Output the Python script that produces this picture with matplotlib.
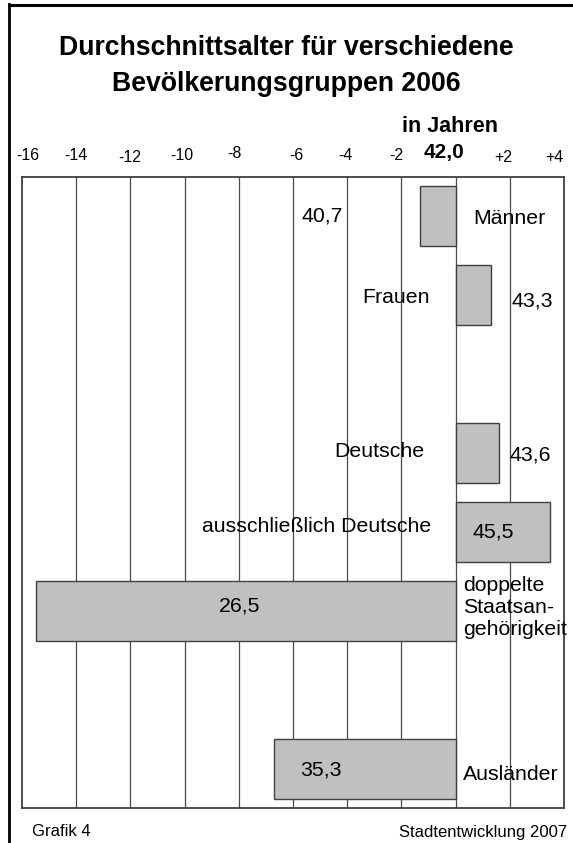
import matplotlib
matplotlib.use("Agg")
import matplotlib.pyplot as plt
import matplotlib.transforms as mtransforms
from matplotlib.lines import Line2D

# 1. DATA
groups = ["Männer", "Frauen", "Deutsche", "ausschließlich Deutsche",
          "doppelte\nStaatsan-\ngehörigkeit", "Ausländer"]
ages = [40.7, 43.3, 43.6, 45.5, 26.5, 35.3]
mean_age = 42.0
tick_values = [-16, -14, -12, -10, -8, -6, -4, -2, 0, 2, 4]
tick_labels = ["-16", "-14", "-12", "-10", "-8", "-6", "-4", "-2", "42,0", "+2", "+4"]

# 2. LAYOUT (slot of each bar, label placement)
slots = [0, 1, 3, 4, 5, 7]
tick_nudge = [0.22, 0.0, -0.03, -0.1, -0.17, 0.13, -0.07, -0.2, -0.43, -0.25, -0.34]
tick_dy = [0, 0, -2, 0, 2, 0, 0, 0, 3, -2, -2]  # pixels
# (x, dy, ha) for the value label and the group label
value_pos = [(-4.92, 0.0, "center"), (2.05, 0.08, "left"), (2.0, 0.03, "left"),
             (0.64, 0.0, "left"), (-7.96, -0.06, "center"), (-5.74, 0.02, "left")]
group_pos = [(0.64, 0.03, "left"), (-0.94, 0.03, "right"), (-1.17, -0.01, "right"),
             (-0.9, -0.06, "right"), (0.27, -0.04, "left"), (0.27, 0.08, "left")]

plt.rcParams['font.family'] = ['Liberation Sans', 'DejaVu Sans']

W, H = 573, 843
fig = plt.figure(figsize=(W / 100, H / 100), dpi=100, facecolor='white')
ax = fig.add_axes([22 / W, 1 - 808 / H, (564 - 22) / W, (808 - 177) / H])

ax.set_xlim(-16, 4)
ax.set_ylim(7.5, -0.49)

# gridlines
for v in tick_values[1:-1]:
    ax.axvline(v, color='#4a4a4a', lw=0.9, zorder=1)

# bars
diffs = [a - mean_age for a in ages]
ax.barh(slots, diffs, height=0.76, color='#c0c0c0', edgecolor='#404040',
        linewidth=1.0, zorder=2)

fmt = lambda v: f"{v:.1f}".replace(".", ",")
for s, a, g, vp, gp in zip(slots, ages, groups, value_pos, group_pos):
    ax.text(vp[0], s + vp[1], fmt(a), ha=vp[2], va='center', fontsize=15.3,
            color='black', zorder=3)
    ax.text(gp[0], s + gp[1], g, ha=gp[2], va='center', fontsize=15.3,
            color='black', linespacing=1.2, zorder=3)

ax.set_xticks([])
ax.set_yticks([])
for sp in ax.spines.values():
    sp.set_color('#404040')
    sp.set_linewidth(1.3)

# top scale labels
blend = mtransforms.blended_transform_factory(ax.transData, ax.transAxes)
for v, lab, nx, dy in zip(tick_values, tick_labels, tick_nudge, tick_dy):
    off = mtransforms.ScaledTranslation(0, dy / 100, fig.dpi_scale_trans)
    bold = lab == "42,0"
    ax.text(v + nx, 1 + 22 / 631, lab, transform=blend + off, ha='center', va='center',
            fontsize=15 if bold else 11.5, fontweight='bold' if bold else 'normal',
            clip_on=False)

# titles
fig.text(0.5, 1 - 48 / H, "Durchschnittsalter für verschiedene", ha='center', va='center',
         fontsize=19.2, fontweight='bold')
fig.text(0.5, 1 - 84 / H, "Bevölkerungsgruppen 2006", ha='center', va='center',
         fontsize=19.2, fontweight='bold')
fig.text(450 / W, 1 - 127 / H, "in Jahren", ha='center', va='center',
         fontsize=15.5, fontweight='bold')

# footer
fig.text(32 / W, 1 - 832 / H, "Grafik 4", ha='left', va='center', fontsize=12)
fig.text(567 / W, 1 - 832 / H, "Stadtentwicklung 2007", ha='right', va='center', fontsize=12)

# outer frame (top and left)
fig.add_artist(Line2D([9 / W, 1], [1 - 4.5 / H, 1 - 4.5 / H], color='black', lw=2.2,
                      transform=fig.transFigure))
fig.add_artist(Line2D([9 / W, 9 / W], [1 - 3.5 / H, 0], color='black', lw=2.0,
                      transform=fig.transFigure))

fig.savefig('out.png', dpi=100, facecolor='white')
